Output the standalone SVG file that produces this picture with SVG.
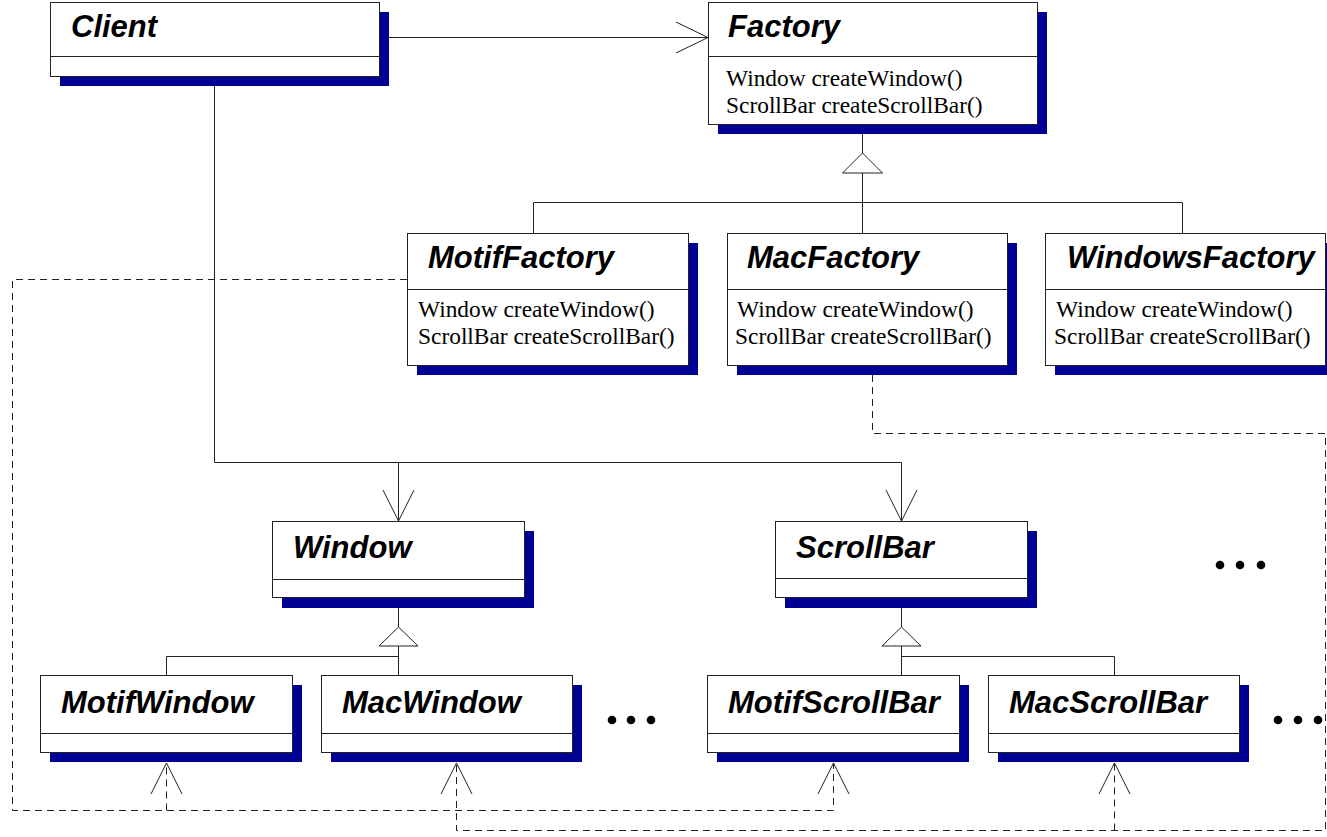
<svg xmlns="http://www.w3.org/2000/svg" width="1327" height="837" viewBox="0 0 1327 837">
<style>
.box{fill:#fff;stroke:#222;stroke-width:1}
.sh{fill:#000094}
.div{stroke:#222;stroke-width:1}
.t{font-family:"Liberation Sans",Arial,sans-serif;font-weight:bold;font-style:italic;font-size:31px;fill:#000}
.m{font-family:"Liberation Serif","Times New Roman",serif;font-size:23.4px;fill:#000}
.ln{fill:none;stroke:#222;stroke-width:1}
.ds{fill:none;stroke:#222;stroke-width:1;stroke-dasharray:7 5}
.tri{fill:#fff;stroke:#222;stroke-width:1}
</style>
<rect width="1327" height="837" fill="#fff"/>
<g id="connectors">
  <path class="ln" d="M379.5,37.5 H708"/>
  <path class="ln" d="M676,22 L708,37.5 L676,53"/>
  <path class="ln" d="M214.5,76 V462.5 H901.5 M398.5,462.5 V521 M901.5,462.5 V521"/>
  <path class="ln" d="M383,490 L398.5,521 L414,490 M886,490 L901.5,521 L917,490"/>
  <path class="ln" d="M862.5,124 V153 M862.5,173 V202.5 M533.5,233 V202.5 H1182.5 V233 M862.5,202.5 V233"/>
  <polygon class="tri" points="862.5,153 842.5,173 882.5,173"/>
  <path class="ln" d="M398.5,597 V627 M398.5,646 V675 M166.5,675 V656.5 H398.5"/>
  <polygon class="tri" points="398.5,627 379,646 418,646"/>
  <path class="ln" d="M901.5,598 V627 M901.5,646 V675 M901.5,656.5 H1114.5 V675"/>
  <polygon class="tri" points="901.5,627 882,646 921,646"/>
  <path class="ds" d="M407,279.5 H12.5 V810.5 H833.5 V764"/>
  <path class="ds" d="M166.5,810.5 V764"/>
  <path class="ln" d="M151,794 L166.5,763 L182,794 M818,794 L833.5,763 L849,794"/>
  <path class="ds" d="M872.5,375 V433.5 H1325.5 V830.5 H456.5 V764"/>
  <path class="ds" d="M1114.5,830.5 V764"/>
  <path class="ln" d="M441,794 L456.5,763 L472,794 M1099,794 L1114.5,763 L1130,794"/>
</g>
<g id="client">
  <rect class="sh" x="60" y="12" width="329" height="74"/>
  <rect class="box" x="50.5" y="2.5" width="329" height="74"/>
  <line class="div" x1="50.5" y1="56.5" x2="379.5" y2="56.5"/>
  <text class="t" x="71" y="37">Client</text>
</g>
<g id="factory">
  <rect class="sh" x="718" y="12" width="329" height="122"/>
  <rect class="box" x="708.5" y="2.5" width="329" height="122"/>
  <line class="div" x1="708.5" y1="56.5" x2="1037.5" y2="56.5"/>
  <text class="t" x="728" y="37">Factory</text>
  <text class="m" x="726" y="86">Window createWindow()</text>
  <text class="m" x="726" y="113">ScrollBar createScrollBar()</text>
</g>
<g id="motiffactory">
  <rect class="sh" x="417" y="243" width="281" height="132"/>
  <rect class="box" x="407.5" y="233.5" width="281" height="132"/>
  <line class="div" x1="407.5" y1="289.5" x2="688.5" y2="289.5"/>
  <text class="t" x="428" y="268">MotifFactory</text>
  <text class="m" x="418" y="317">Window createWindow()</text>
  <text class="m" x="418" y="344">ScrollBar createScrollBar()</text>
</g>
<g id="macfactory">
  <rect class="sh" x="737" y="243" width="280" height="132"/>
  <rect class="box" x="727.5" y="233.5" width="280" height="132"/>
  <line class="div" x1="727.5" y1="289.5" x2="1007.5" y2="289.5"/>
  <text class="t" x="747" y="268">MacFactory</text>
  <text class="m" x="737" y="317">Window createWindow()</text>
  <text class="m" x="735" y="344">ScrollBar createScrollBar()</text>
</g>
<g id="windowsfactory">
  <rect class="sh" x="1055" y="243" width="280" height="132"/>
  <rect class="box" x="1045.5" y="233.5" width="280" height="132"/>
  <line class="div" x1="1045.5" y1="289.5" x2="1325.5" y2="289.5"/>
  <text class="t" x="1067" y="268">WindowsFactory</text>
  <text class="m" x="1056" y="317">Window createWindow()</text>
  <text class="m" x="1054" y="344">ScrollBar createScrollBar()</text>
</g>
<g id="window">
  <rect class="sh" x="282" y="531" width="252" height="77"/>
  <rect class="box" x="272.5" y="521.5" width="252" height="76"/>
  <line class="div" x1="272.5" y1="579.5" x2="524.5" y2="579.5"/>
  <text class="t" x="293" y="558">Window</text>
</g>
<g id="scrollbar">
  <rect class="sh" x="785" y="531" width="252" height="77"/>
  <rect class="box" x="775.5" y="521.5" width="252" height="76"/>
  <line class="div" x1="775.5" y1="578.5" x2="1027.5" y2="578.5"/>
  <text class="t" x="796" y="558">ScrollBar</text>
</g>
<g id="motifwindow">
  <rect class="sh" x="50" y="685" width="252" height="77"/>
  <rect class="box" x="40.5" y="675.5" width="252" height="77"/>
  <line class="div" x1="40.5" y1="733.5" x2="292.5" y2="733.5"/>
  <text class="t" x="61" y="713">MotifWindow</text>
</g>
<g id="macwindow">
  <rect class="sh" x="331" y="685" width="251" height="77"/>
  <rect class="box" x="321.5" y="675.5" width="251" height="77"/>
  <line class="div" x1="321.5" y1="733.5" x2="572.5" y2="733.5"/>
  <text class="t" x="342" y="713">MacWindow</text>
</g>
<g id="motifscrollbar">
  <rect class="sh" x="717" y="685" width="252" height="77"/>
  <rect class="box" x="707.5" y="675.5" width="252" height="77"/>
  <line class="div" x1="707.5" y1="733.5" x2="959.5" y2="733.5"/>
  <text class="t" x="728" y="713">MotifScrollBar</text>
</g>
<g id="macscrollbar">
  <rect class="sh" x="998" y="685" width="251" height="77"/>
  <rect class="box" x="988.5" y="675.5" width="251" height="77"/>
  <line class="div" x1="988.5" y1="733.5" x2="1239.5" y2="733.5"/>
  <text class="t" x="1009" y="713">MacScrollBar</text>
</g>
<g id="ellipsis-windows" fill="#000">
  <circle cx="612" cy="720" r="4.3"/><circle cx="631" cy="720" r="4.3"/><circle cx="651" cy="720" r="4.3"/>
</g>
<g id="ellipsis-products" fill="#000">
  <circle cx="1220" cy="565" r="4.3"/><circle cx="1240" cy="565" r="4.3"/><circle cx="1261" cy="565" r="4.3"/>
</g>
<g id="ellipsis-scrollbars" fill="#000">
  <circle cx="1278" cy="720" r="4.3"/><circle cx="1298" cy="720" r="4.3"/><circle cx="1318" cy="720" r="4.3"/>
</g>
</svg>
